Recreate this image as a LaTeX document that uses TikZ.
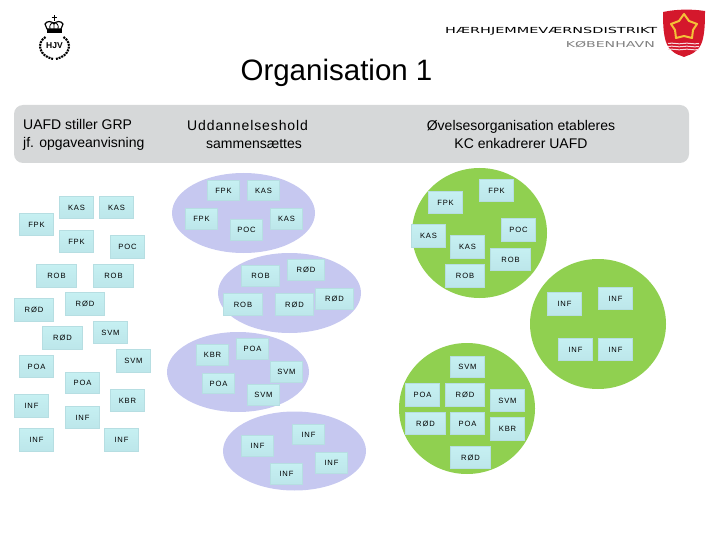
\documentclass[tikz,border=0pt]{standalone}
\usepackage{fontspec}
\setmainfont{Liberation Sans}
\newfontfamily\boxfont[LetterSpace=11]{Liberation Sans}
\newfontfamily\spacedfont[LetterSpace=6.4]{Liberation Sans}
\newfontfamily\headfont{DejaVu Sans}
\usetikzlibrary{calc}
\definecolor{banner}{HTML}{D6D8D9}
\definecolor{lilac}{HTML}{C6C8F0}
\definecolor{leaf}{HTML}{90D050}
\definecolor{boxtop}{HTML}{C6F0F2}
\definecolor{boxbot}{HTML}{BCE6EA}
\definecolor{boxedge}{HTML}{B6DEE2}
\definecolor{shieldred}{HTML}{D4182C}
\definecolor{shieldgold}{HTML}{F4C038}
\tikzset{
  x=1pt,y=-1pt,
  tag/.style={rectangle,inner sep=0pt,outer sep=0pt,draw=boxedge,line width=0.6pt,top color=boxtop,bottom color=boxbot,
    font=\fontsize{7.6}{10}\boxfont,text=black},
  lilacblob/.style={fill=lilac,draw=none},
  leafblob/.style={fill=leaf,draw=none},
  bannertext/.style={font=\fontsize{14}{18}\selectfont,inner sep=0pt},
  logoink/.style={draw=black,line width=1pt,fill=none},
  leaves/.style={draw=black,line width=2.1pt,dash pattern=on 2pt off 0.9pt,fill=none}
}
\newcommand{\tg}[6]{\node[tag,minimum width={(#4-#2)*1pt-0.6pt},minimum height={(#5-#3)*1pt-0.6pt}] (#1) at ({(#2+#4)/2},{(#3+#5)/2}) {#6};}
\begin{document}
\begin{tikzpicture}
\useasboundingbox (0,0) rectangle (720,540);
% banner
\fill[banner,rounded corners=9pt] (14,105) rectangle (689,163);
\node[font=\fontsize{29.5}{36}\selectfont,inner sep=0pt] (title) at (336.5,72.5) {Organisation 1};
\node[bannertext,anchor=west,align=left] (tl) at (23,135) {UAFD stiller GRP\\jf. opgaveanvisning};
\node[bannertext,anchor=west,align=left] (tm) at (187,134.5) {{\spacedfont Uddannelseshold}\\\hspace*{19pt}sammensættes};
\node[bannertext,align=center] (tr) at (521,134.5) {Øvelsesorganisation etableres\\KC enkadrerer UAFD};
% blobs
\fill[lilacblob] (243.5,213) ellipse [x radius=71.5,y radius=40];
\fill[lilacblob] (289.5,293) ellipse [x radius=71.5,y radius=40];
\fill[lilacblob] (238,372) ellipse [x radius=71,y radius=40];
\fill[lilacblob] (294.5,451) ellipse [x radius=71.5,y radius=39.5];
\fill[leafblob] (479.5,233) ellipse [x radius=67.5,y radius=65];
\fill[leafblob] (598,324) ellipse [x radius=68,y radius=65];
\fill[leafblob] (467,408.5) ellipse [x radius=68,y radius=65.5];
% left
\tg{a1}{59}{196}{94}{219}{KAS}
\tg{a2}{99}{196}{134}{219}{KAS}
\tg{a3}{19}{213}{54}{236}{FPK}
\tg{a4}{59}{230}{94}{253}{FPK}
\tg{a5}{110}{235}{145}{259}{POC}
\tg{a6}{36}{264}{77}{288}{ROB}
\tg{a7}{93}{264}{134}{288}{ROB}
\tg{a8}{14}{298}{54}{322}{RØD}
\tg{a9}{65}{292}{105}{316}{RØD}
\tg{a10}{42}{326}{83}{350}{RØD}
\tg{a11}{93}{321}{128}{344}{SVM}
\tg{a12}{116}{349}{151}{373}{SVM}
\tg{a13}{19}{355}{54}{378}{POA}
\tg{a14}{65}{372}{100}{394}{POA}
\tg{a15}{14}{394}{49}{418}{INF}
\tg{a16}{110}{389}{145}{412}{KBR}
\tg{a17}{65}{406}{100}{429}{INF}
\tg{a18}{19}{428}{54}{452}{INF}
\tg{a19}{104}{428}{139}{452}{INF}
% middle
\tg{b1}{207}{180}{240}{201}{FPK}
\tg{b2}{247}{180}{280}{201}{KAS}
\tg{b3}{185}{208}{218}{230}{FPK}
\tg{b4}{270}{208}{303}{230}{KAS}
\tg{b5}{230}{219}{263}{241}{POC}
\tg{b6}{241}{265}{280}{287}{ROB}
\tg{b7}{287}{259}{325}{281}{RØD}
\tg{b8}{223}{293}{263}{316}{ROB}
\tg{b9}{275}{293}{314}{316}{RØD}
\tg{b10}{315}{288}{354}{310}{RØD}
\tg{b11}{196}{344}{229}{366}{KBR}
\tg{b12}{236}{338}{269}{360}{POA}
\tg{b13}{270}{361}{303}{383}{SVM}
\tg{b14}{202}{373}{235}{394}{POA}
\tg{b15}{247}{384}{280}{406}{SVM}
\tg{b16}{241}{435}{274}{457}{INF}
\tg{b17}{292}{424}{325}{445}{INF}
\tg{b18}{315}{452}{348}{474}{INF}
\tg{b19}{270}{463}{303}{485}{INF}
% right
\tg{c1}{479}{179}{514}{202}{FPK}
\tg{c2}{428}{191}{463}{214}{FPK}
\tg{c3}{411}{224}{446}{248}{KAS}
\tg{c4}{501}{218}{536}{242}{POC}
\tg{c5}{450}{235}{485}{259}{KAS}
\tg{c6}{490}{248}{531}{271}{ROB}
\tg{c7}{445}{264}{485}{288}{ROB}
\tg{c8}{547}{292}{582}{316}{INF}
\tg{c9}{598}{287}{633}{310}{INF}
\tg{c10}{558}{338}{593}{361}{INF}
\tg{c11}{598}{338}{633}{361}{INF}
\tg{c12}{450}{356}{485}{378}{SVM}
\tg{c13}{405}{383}{440}{407}{POA}
\tg{c14}{445}{383}{485}{407}{RØD}
\tg{c15}{490}{389}{525}{412}{SVM}
\tg{c16}{405}{412}{446}{435}{RØD}
\tg{c17}{450}{412}{485}{435}{POA}
\tg{c18}{490}{417}{525}{441}{KBR}
\tg{c19}{450}{446}{491}{469}{RØD}
% header text
\node[anchor=west,inner sep=0pt] (head1) at (445,31) {\resizebox{212pt}{6.2pt}{\headfont HÆRHJEMMEVÆRNSDISTRIKT}};
\node[anchor=east,inner sep=0pt,text=black!50] (head2) at (655,45) {\resizebox{89pt}{6.2pt}{\headfont KØBENHAVN}};
% shield
\fill[shieldred] (663,12) .. controls (677,9) and (692,9) .. (705,11)
  .. controls (705,30) and (704,44) .. (697,50) .. controls (692,55) and (688,55) .. (684,57)
  .. controls (680,55) and (676,55) .. (671,50) .. controls (664,44) and (663,30) .. (663,12) -- cycle;
\draw[shieldgold,line width=2pt,line join=round] (684,14) -- (689,21) -- (697,24) -- (693,30) -- (692,38) -- (684,36) -- (676,38) -- (675,30) -- (671,24) -- (679,21) -- cycle;
\foreach \yy in {43.5,46.5,49.5} \draw[white!85!shieldred,line width=1pt] (668,\yy) .. controls (673,\yy-1.2) and (678,\yy+1.2) .. (683,\yy) .. controls (688,\yy-1.2) and (693,\yy+1.2) .. (699,\yy);
% HJV logo
\draw[logoink] (54,15) -- (54,21) (51.5,17.5) -- (56.5,17.5);
\draw[logoink,line width=1.2pt,line join=round] (47,29) -- (45,24) .. controls (47,20.5) and (52,21) .. (54,24) .. controls (56,21) and (61,20.5) .. (63,24) -- (61,29) -- cycle;
\draw[logoink,line width=0.8pt] (50,29) .. controls (49,25) and (51,23) .. (54,22.5) .. controls (57,23) and (59,25) .. (58,29) (54,22.5) -- (54,29);
\fill (46.5,29) rectangle (61.5,33.5);
\draw[leaves] (45.5,37) .. controls (36,43) and (39,56) .. (53,59);
\draw[leaves] (63.5,37) .. controls (73,43) and (70,56) .. (56,59);
\node[font=\fontsize{8.5}{9}\bfseries\selectfont,inner sep=0pt] (hjv) at (54.5,45.5) {HJV};
\end{tikzpicture}
\end{document}
